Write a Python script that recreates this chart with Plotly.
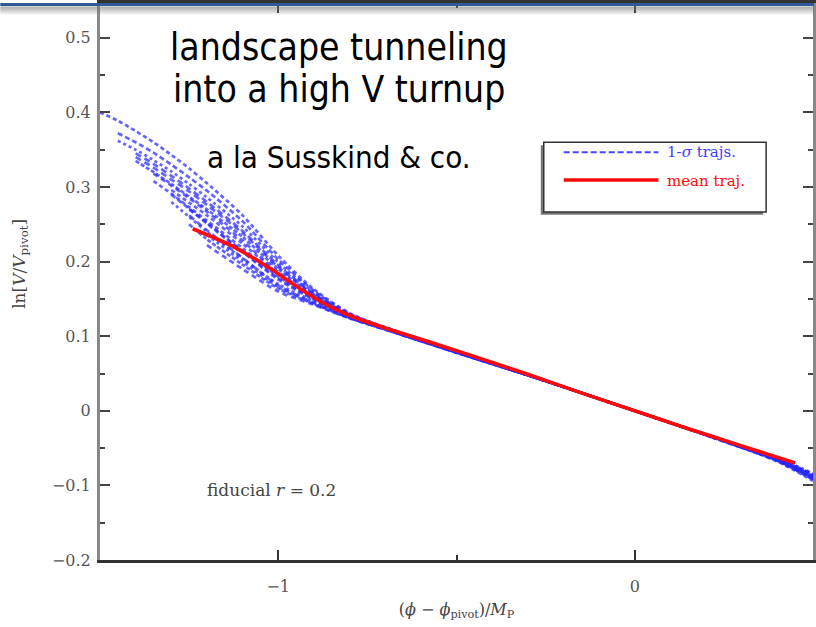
import plotly.graph_objects as go

# shared field grid (phi - phi_pivot)/M_p for the 1-sigma trajectories
phi_grid = [-1.50, -1.45, -1.40, -1.35, -1.30, -1.25, -1.20, -1.10, -1.00, -0.90,
            -0.80, -0.70, -0.50, -0.25, 0.00, 0.25, 0.40, 0.50]

# ln[V/V_pivot] along each 1-sigma trajectory (None before the trajectory starts)
traj_01 = [0.400, 0.389, 0.375, 0.360, 0.343, 0.325, 0.305, 0.262, 0.208, 0.163, 0.131, 0.112, 0.080, 0.040, 0.000, -0.040, -0.064, -0.086]
traj_02 = [None, 0.372, 0.360, 0.346, 0.330, 0.313, 0.295, 0.254, 0.203, 0.161, 0.130, 0.112, 0.080, 0.040, 0.000, -0.040, -0.065, -0.088]
traj_03 = [None, 0.362, 0.350, 0.336, 0.321, 0.304, 0.286, 0.247, 0.199, 0.159, 0.129, 0.111, 0.080, 0.040, 0.000, -0.040, -0.066, -0.090]
traj_04 = [None, None, 0.345, 0.331, 0.315, 0.298, 0.280, 0.241, 0.195, 0.157, 0.128, 0.111, 0.079, 0.040, 0.000, -0.040, -0.064, -0.085]
traj_05 = [None, None, 0.335, 0.320, 0.304, 0.287, 0.270, 0.233, 0.190, 0.155, 0.128, 0.111, 0.079, 0.040, 0.000, -0.041, -0.067, -0.092]
traj_06 = [None, None, None, 0.318, 0.302, 0.285, 0.267, 0.228, 0.186, 0.153, 0.127, 0.110, 0.079, 0.040, 0.000, -0.040, -0.065, -0.089]
traj_07 = [None, None, None, 0.308, 0.291, 0.273, 0.255, 0.218, 0.180, 0.151, 0.126, 0.110, 0.079, 0.040, 0.000, -0.041, -0.068, -0.094]
traj_08 = [None, None, None, None, 0.290, 0.271, 0.251, 0.213, 0.176, 0.149, 0.126, 0.110, 0.079, 0.040, 0.000, -0.040, -0.066, -0.087]
traj_09 = [None, None, None, None, 0.280, 0.260, 0.240, 0.204, 0.170, 0.147, 0.125, 0.110, 0.078, 0.040, 0.000, -0.040, -0.063, -0.084]
traj_10 = [None, None, None, None, None, 0.262, 0.242, 0.205, 0.168, 0.145, 0.125, 0.109, 0.078, 0.040, 0.000, -0.041, -0.067, -0.091]
traj_11 = [None, None, None, None, None, 0.250, 0.230, 0.196, 0.164, 0.143, 0.124, 0.109, 0.078, 0.040, 0.000, -0.040, -0.065, -0.088]
traj_12 = [None, None, None, None, None, None, 0.222, 0.190, 0.160, 0.142, 0.124, 0.109, 0.078, 0.040, 0.000, -0.040, -0.066, -0.090]
traj_13 = [None, None, None, None, 0.296, 0.279, 0.262, 0.224, 0.184, 0.152, 0.127, 0.110, 0.079, 0.040, 0.000, -0.040, -0.066, -0.089]
traj_14 = [None, None, None, None, None, 0.270, 0.252, 0.214, 0.178, 0.150, 0.126, 0.110, 0.079, 0.040, 0.000, -0.041, -0.067, -0.092]
traj_15 = [None, None, None, None, None, None, 0.236, 0.200, 0.166, 0.144, 0.125, 0.109, 0.078, 0.040, 0.000, -0.040, -0.064, -0.086]
traj_16 = [None, None, 0.340, 0.326, 0.310, 0.294, 0.276, 0.238, 0.193, 0.156, 0.128, 0.111, 0.079, 0.040, 0.000, -0.040, -0.065, -0.090]

# mean trajectory
mean_phi = [-1.24, -1.13, -1.04, -0.98, -0.94, -0.86, -0.78, -0.70, -0.58, -0.47,
            -0.30, -0.15, 0.00, 0.15, 0.30, 0.45]
mean_lnV = [0.244, 0.221, 0.196, 0.177, 0.164, 0.141, 0.124, 0.111, 0.093, 0.076,
            0.049, 0.024, 0.000, -0.024, -0.047, -0.070]

x_ticks = [-1, 0]
y_ticks = [-0.2, -0.1, 0, 0.1, 0.2, 0.3, 0.4, 0.5]
y_ticklabels = ["\u22120.2", "\u22120.1", "0", "0.1", "0.2", "0.3", "0.4", "0.5"]
x_ticklabels = ["\u22121", "0"]

SERIF = "DejaVu Serif, Liberation Serif, serif"
NARROW = "Liberation Sans Narrow, DejaVu Sans Condensed, Roboto, sans-serif"
BLUE = "rgba(40,40,255,0.72)"
RED = "rgb(255,10,10)"

# figure geometry (pixels) used for paper-coordinate decorations
W, H = 816, 627
ML, MR, MT, MB = 100, 1, 0, 67
PW, PH = W - ML - MR, H - MT - MB


def px(x):
    return (x - ML) / PW


def py(y):
    return (PH - (y - MT)) / PH


fig = go.Figure()

dashes = ["4px,3px", "5px,3px", "3px,3px", "6px,4px", "4px,2px", "5px,4px"]
trajs = [traj_01, traj_02, traj_03, traj_04, traj_05, traj_06, traj_07, traj_08,
         traj_09, traj_10, traj_11, traj_12, traj_13, traj_14, traj_15, traj_16]
for i, ys in enumerate(trajs):
    fig.add_trace(go.Scatter(
        x=phi_grid, y=ys, mode="lines",
        line=dict(color=BLUE, width=2.7, dash=dashes[i % len(dashes)],
                  shape="spline", smoothing=0.8),
        hoverinfo="skip", showlegend=False))

fig.add_trace(go.Scatter(
    x=mean_phi, y=mean_lnV, mode="lines",
    line=dict(color=RED, width=3.6, shape="spline", smoothing=0.8),
    showlegend=False))

shapes = []
# legend frame with drop shadow
shapes.append(dict(type="rect", xref="paper", yref="paper",
                   x0=px(542), x1=px(765), y0=py(213), y1=py(143),
                   fillcolor="#777", line=dict(width=0), layer="above"))
shapes.append(dict(type="rect", xref="paper", yref="paper",
                   x0=px(545), x1=px(768), y0=py(210), y1=py(140),
                   fillcolor="white", line=dict(color="#333", width=1.5), layer="above"))
shapes.append(dict(type="line", xref="paper", yref="paper",
                   x0=px(565), x1=px(660), y0=py(150), y1=py(150),
                   line=dict(color="rgb(70,70,255)", width=2, dash="6px,3px"), layer="above"))
shapes.append(dict(type="line", xref="paper", yref="paper",
                   x0=px(565), x1=px(660), y0=py(178), y1=py(178),
                   line=dict(color=RED, width=3.5), layer="above"))
# slide header strip
shapes.append(dict(type="rect", xref="paper", yref="paper",
                   x0=-ML / PW, x1=1 + MR / PW, y0=py(3), y1=py(0),
                   fillcolor="#2d5a96", line=dict(width=0), layer="above"))
for k in range(8):
    shapes.append(dict(type="rect", xref="paper", yref="paper",
                       x0=-ML / PW, x1=1 + MR / PW, y0=py(4 + k + 1), y1=py(3 + k),
                       fillcolor="rgba(120,120,120,%.3f)" % (0.35 * (1 - k / 8)),
                       line=dict(width=0), layer="above"))


def note(text, x, y, size, family, color, xanchor="center", angle=0):
    return dict(text=text, x=px(x), y=py(y), xref="paper", yref="paper",
                xanchor=xanchor, yanchor="middle", textangle=angle, showarrow=False,
                font=dict(family=family, size=size, color=color))


annotations = [
    note("landscape tunneling", 340, 45, 37, NARROW, "black"),
    note("into a high V turnup", 340, 87, 37, NARROW, "black"),
    note("a la Susskind &amp; co.", 340, 155, 31, NARROW, "black"),
    note("1-<i>\u03c3</i> trajs.", 667, 150, 15, SERIF, "rgb(60,60,255)", xanchor="left"),
    note("mean traj.", 667, 179, 15, SERIF, RED, xanchor="left"),
    note("fiducial <i>r</i> = 0.2", 272, 490, 17, SERIF, "#444"),
    note("ln[<i>V</i>/<i>V</i><sub>pivot</sub>]", 20, 262, 17, SERIF, "#444", angle=-90),
]

fig.update_layout(
    width=W, height=H,
    margin=dict(l=ML, r=MR, t=MT, b=MB, pad=0),
    paper_bgcolor="white", plot_bgcolor="white",
    shapes=shapes, annotations=annotations,
    showlegend=False,
)

fig.update_xaxes(
    range=[-1.5, 0.5], tickvals=x_ticks, ticktext=x_ticklabels,
    ticks="inside", ticklen=10, tickwidth=2, tickcolor="#333",
    minor=dict(dtick=0.5, tick0=0, ticks="inside", ticklen=5, tickwidth=2, tickcolor="#333"),
    showline=True, linecolor="#333", linewidth=2.5, mirror="ticks",
    showgrid=False, zeroline=False, ticklabelstandoff=10,
    tickfont=dict(family=SERIF, size=16, color="#555"),
    title=dict(text="(<i>\u03d5</i> \u2212 <i>\u03d5</i><sub>pivot</sub>)/<i>M</i><sub>P</sub>",
               font=dict(family=SERIF, size=16, color="#444"), standoff=9),
)
fig.update_yaxes(
    range=[-0.2, -0.2 + PH / 750.0], tickvals=y_ticks, ticktext=y_ticklabels,
    ticks="inside", ticklen=10, tickwidth=2, tickcolor="#444",
    minor=dict(dtick=0.05, tick0=0, ticks="inside", ticklen=5, tickwidth=2, tickcolor="#444"),
    showline=True, linecolor="#888", linewidth=3, mirror="ticks",
    showgrid=False, zeroline=False, ticklabelstandoff=3,
    tickfont=dict(family=SERIF, size=16, color="#555"),
)

fig.write_html("out.html")
